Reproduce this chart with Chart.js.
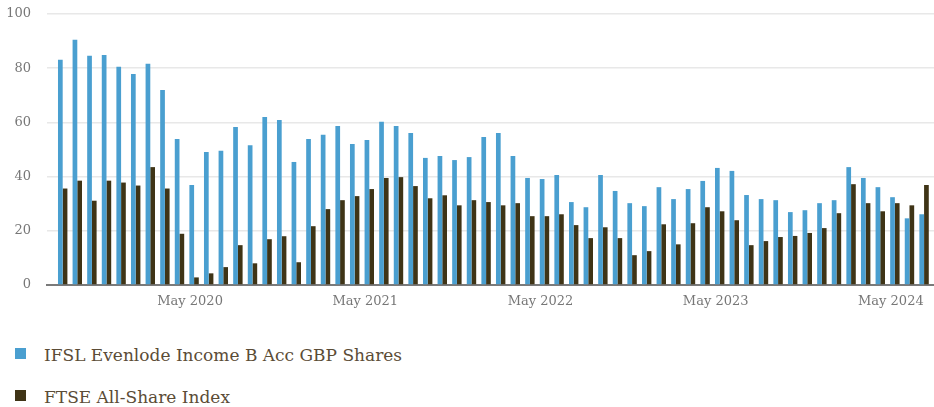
<!DOCTYPE html>
<html>
<head>
<meta charset="utf-8">
<script src="https://cdn.jsdelivr.net/npm/chart.js@4/dist/chart.umd.min.js"></script>
<style>
  html, body { margin: 0; padding: 0; background: #ffffff; overflow: hidden; }
  #wrap { position: relative; width: 934px; height: 407px; }
  #box { position: absolute; left: 0; top: 0; width: 934px; height: 315px; }
  .leg { position: absolute; left: 0; font-family: "DejaVu Serif", serif; font-size: 17px; line-height: 20px; color: #5b4c36; white-space: nowrap; }
  .leg .sw { position: absolute; left: 15px; top: 3px; width: 11px; height: 11px; }
  .leg .tx { position: absolute; left: 44px; top: 0; }
</style>
</head>
<body>
<div id="wrap">
  <div id="box"><canvas id="c"></canvas></div>
  <div class="leg" id="leg0" style="top:345px"><span class="sw" style="background:#4a9fd0"></span><span class="tx"></span></div>
  <div class="leg" id="leg1" style="top:387px"><span class="sw" style="background:#3f3416"></span><span class="tx"></span></div>
</div>
<script>
const categories = [
  "Aug 2019","Sep 2019","Oct 2019","Nov 2019","Dec 2019",
  "Jan 2020","Feb 2020","Mar 2020","Apr 2020","May 2020","Jun 2020","Jul 2020","Aug 2020","Sep 2020","Oct 2020","Nov 2020","Dec 2020",
  "Jan 2021","Feb 2021","Mar 2021","Apr 2021","May 2021","Jun 2021","Jul 2021","Aug 2021","Sep 2021","Oct 2021","Nov 2021","Dec 2021",
  "Jan 2022","Feb 2022","Mar 2022","Apr 2022","May 2022","Jun 2022","Jul 2022","Aug 2022","Sep 2022","Oct 2022","Nov 2022","Dec 2022",
  "Jan 2023","Feb 2023","Mar 2023","Apr 2023","May 2023","Jun 2023","Jul 2023","Aug 2023","Sep 2023","Oct 2023","Nov 2023","Dec 2023",
  "Jan 2024","Feb 2024","Mar 2024","Apr 2024","May 2024","Jun 2024","Jul 2024"
];
const seriesNames = ["IFSL Evenlode Income B Acc GBP Shares", "FTSE All-Share Index"];
const fundValues = [
  83.1, 90.5, 84.6, 84.9, 80.5, 77.9, 81.6, 72.0, 53.9, 36.9,
  49.1, 49.5, 58.3, 51.6, 62.0, 60.9, 45.4, 53.9, 55.4, 58.7,
  52.0, 53.5, 60.2, 58.7, 56.1, 46.9, 47.6, 46.1, 47.2, 54.6,
  56.1, 47.6, 39.5, 39.1, 40.6, 30.6, 28.7, 40.6, 34.7, 30.2,
  29.1, 36.1, 31.7, 35.4, 38.4, 43.2, 42.1, 33.2, 31.7, 31.3,
  26.9, 27.6, 30.2, 31.3, 43.5, 39.5, 36.1, 32.4, 24.6, 26.1
];
const indexValues = [
  35.6, 38.5, 31.1, 38.5, 37.8, 36.7, 43.5, 35.6, 18.9, 2.8,
  4.3, 6.6, 14.7, 8.0, 16.9, 18.0, 8.4, 21.7, 28.0, 31.3,
  32.8, 35.4, 39.5, 39.8, 36.5, 32.0, 33.1, 29.4, 31.3, 30.6,
  29.4, 30.2, 25.4, 25.4, 26.1, 22.1, 17.3, 21.3, 17.3, 11.0,
  12.5, 22.4, 15.0, 22.8, 28.7, 27.2, 23.9, 14.7, 16.2, 17.7,
  18.1, 19.2, 21.0, 26.5, 37.2, 30.2, 27.2, 30.2, 29.4, 36.9
];
const yTicks = [0, 20, 40, 60, 80, 100];
const xTickLabels = ["May 2020", "May 2021", "May 2022", "May 2023", "May 2024"];

const colors = ["#4a9fd0", "#3f3416"];
document.querySelector('#leg0 .tx').textContent = seriesNames[0];
document.querySelector('#leg1 .tx').textContent = seriesNames[1];

const xTickIdx = xTickLabels.map(l => categories.indexOf(l));
const toPts = arr => arr.map((v, i) => ({ x: i, y: v }));

new Chart(document.getElementById('c'), {
  type: 'bar',
  data: {
    datasets: [
      { label: seriesNames[0], data: toPts(fundValues), backgroundColor: colors[0], barPercentage: 1, categoryPercentage: 0.645 },
      { label: seriesNames[1], data: toPts(indexValues), backgroundColor: colors[1], barPercentage: 1, categoryPercentage: 0.645 }
    ]
  },
  options: {
    responsive: true,
    maintainAspectRatio: false,
    animation: false,
    layout: { padding: { top: 14, left: 0, right: 0, bottom: 0 } },
    plugins: { legend: { display: false }, tooltip: { enabled: false } },
    scales: {
      x: {
        type: 'linear',
        offset: false,
        min: -1.075,
        max: 59.68,
        grid: { display: false, drawTicks: false },
        border: { display: true, color: '#7a7a7a', width: 2 },
        afterBuildTicks: s => { s.ticks = xTickIdx.map(v => ({ value: v })); },
        afterFit: s => { s.height = 30; s.paddingLeft = 0; s.paddingRight = 0; },
        ticks: {
          autoSkip: false, maxRotation: 0, padding: 9, labelOffset: -4,
          color: '#777777', font: { family: 'DejaVu Serif', size: 13 },
          callback: v => categories[v]
        }
      },
      y: {
        min: 0, max: 100,
        grid: { color: '#e8e8e8', lineWidth: 1.5, drawTicks: false },
        border: { display: false },
        afterBuildTicks: s => { s.ticks = yTicks.map(v => ({ value: v })); },
        afterFit: s => { s.width = 47; s.paddingTop = 0; s.paddingBottom = 0; },
        ticks: { padding: 16, color: '#777777', font: { family: 'DejaVu Serif', size: 13 } }
      }
    }
  }
});
</script>
</body>
</html>
